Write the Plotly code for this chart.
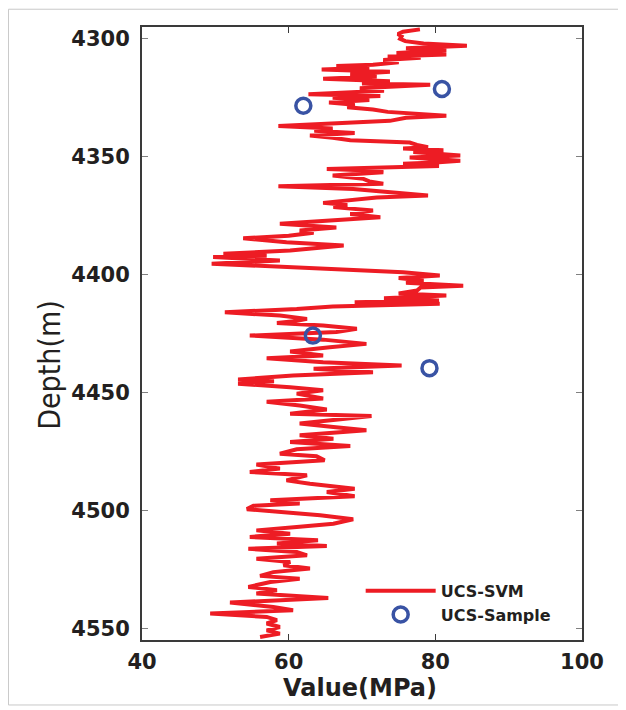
import plotly.graph_objects as go

# UCS-SVM log (depth in m, value in MPa)
svm_depth = [
    4296, 4297, 4298, 4299, 4300, 4301, 4302, 4303, 4304, 4305, 4306, 4306.7, 4307.5, 4308, 4309, 4310,
    4311, 4311.5, 4312.3, 4313, 4314, 4315, 4316, 4317, 4318, 4319, 4319.5, 4321, 4322, 4323.5, 4324.3,
    4325, 4326, 4327, 4328, 4329, 4330, 4331, 4332.6, 4333.5, 4334.8, 4336, 4337, 4338, 4339, 4340,
    4341, 4342, 4343, 4344, 4345, 4346, 4346.5, 4347.3, 4348, 4349.5, 4350.3, 4351.7, 4352.5, 4353,
    4354, 4355.2, 4356, 4356.6, 4357.3, 4358, 4359.4, 4360.5, 4361.5, 4362.5, 4363.7, 4365, 4366.5,
    4367.3, 4368, 4369.6, 4370.5, 4371.4, 4372.8, 4374.3, 4375.7, 4377, 4378.5, 4380, 4381.3, 4382.3,
    4383.5, 4384.6, 4386.3, 4387.7, 4388.8, 4389.8, 4391.2, 4392, 4392.6, 4394, 4395.4, 4396.9, 4397.6,
    4398.3, 4399, 4400.4, 4401.5, 4402.6, 4403.5, 4404.7, 4405.5, 4406.8, 4408, 4408.9, 4410, 4411,
    4411.7, 4412.4, 4413.5, 4414.6, 4416, 4417.4, 4418.8, 4419.7, 4420.5, 4421.6, 4423, 4424.4, 4425.9,
    4427.6, 4429.4, 4430.8, 4432.6, 4434.3, 4435.5, 4437.2, 4438.6, 4440, 4441.4, 4442.8, 4444.5,
    4445.3, 4446.3, 4447.8, 4449.1, 4450.5, 4452.6, 4454, 4455.5, 4457.2, 4459, 4460, 4461.8, 4463.2,
    4464.7, 4466, 4468.2, 4469.6, 4471, 4472.7, 4474.1, 4476, 4477.1, 4478.8, 4480.6, 4482.3, 4483.7,
    4485.1, 4487.3, 4488.7, 4490.8, 4492.2, 4494, 4495.7, 4497.1, 4498.1, 4499.5, 4500.7, 4502.1,
    4503.8, 4505.7, 4507.1, 4508.5, 4509.9, 4511.3, 4512.7, 4514.1, 4515.1, 4516.3, 4517.7, 4519.1,
    4520.5, 4521.9, 4523.3, 4524.7, 4526.2, 4527.8, 4529, 4530.4, 4532.5, 4533.9, 4535.3, 4537.2,
    4539.1, 4541, 4542.4, 4543.8, 4545.2, 4546.6, 4548, 4549.5, 4550.9, 4552.3, 4553.7,
]
svm_value = [
    77.9, 75.6, 74.9, 75.4, 75.2, 75.9, 78.4, 84.3, 76.0, 81.5, 74.7, 81.5, 73.5, 78.0, 72.9, 75.0,
    71.5, 66.5, 71.0, 64.5, 73.8, 68.4, 72.0, 64.7, 73.8, 70.0, 79.3, 69.7, 73.0, 62.7, 72.5,
    66.0, 71.0, 65.5, 69.0, 68.0, 71.5, 73.5, 81.5, 76.0, 73.8, 65.0, 58.6, 66.0, 63.5, 69.0,
    62.9, 66.0, 68.4, 76.5, 77.5, 79.0, 75.6, 81.1, 77.0, 83.4, 76.5, 83.4, 80.0, 75.6,
    80.5, 65.2, 72.0, 72.9, 69.0, 66.0, 70.2, 71.0, 72.9, 58.6, 68.8, 74.3, 79.0,
    72.0, 69.3, 64.7, 68.0, 66.1, 71.5, 68.4, 72.5, 66.0, 58.8, 66.5, 61.5, 63.4,
    60.0, 53.8, 59.7, 67.5, 63.0, 60.2, 51.1, 57.0, 49.7, 58.8, 49.5, 60.2, 65.0,
    71.5, 75.6, 80.6, 75.0, 78.4, 76.0, 83.8, 78.0, 77.5, 75.0, 81.5, 73.0, 80.5,
    69.0, 80.6, 66.0, 61.1, 51.3, 58.8, 62.5, 61.0, 58.4, 64.7, 69.3, 66.5, 54.7,
    64.7, 70.6, 65.6, 60.2, 64.7, 57.0, 64.7, 75.4, 63.4, 71.5, 60.6, 53.1,
    58.0, 53.1, 60.2, 64.7, 61.1, 64.7, 57.0, 61.5, 65.2, 60.2, 71.3, 65.6, 61.5,
    66.1, 70.6, 61.5, 66.1, 60.2, 68.4, 61.1, 58.8, 63.8, 64.9, 55.6, 58.8, 54.7,
    62.5, 59.7, 62.9, 69.0, 65.2, 69.0, 57.5, 61.5, 55.2, 54.3, 58.8, 64.3,
    68.8, 66.1, 61.1, 55.6, 60.2, 54.7, 64.0, 58.4, 65.2, 54.5, 61.1, 62.5,
    55.6, 60.2, 59.3, 62.9, 57.9, 56.1, 61.5, 57.5, 54.5, 58.4, 55.6, 65.4,
    52.0, 57.9, 60.6, 49.3, 57.0, 58.4, 57.0, 58.8, 57.0, 58.8, 56.1,
]

# UCS core samples
sample_depth = [4321.3, 4328.4, 4425.9, 4439.7]
sample_value = [80.9, 62.0, 63.3, 79.2]

x_ticks = [40, 60, 80, 100]
y_ticks = [4300, 4350, 4400, 4450, 4500, 4550]

TXT = "#231f20"
AX = "#3a3a3a"

fig = go.Figure()
fig.add_trace(go.Scatter(
    x=svm_value, y=svm_depth, mode="lines", name="UCS-SVM",
    line=dict(color="#ed1c24", width=4),
))
fig.add_trace(go.Scatter(
    x=sample_value, y=sample_depth, mode="markers", name="UCS-Sample",
    marker=dict(symbol="circle-open", size=15, color="#3953a4", line=dict(width=3.5, color="#3953a4")),
))

fig.update_layout(
    width=614, height=700,
    margin=dict(l=134, r=40, t=19, b=68, autoexpand=False),
    paper_bgcolor="white", plot_bgcolor="white",
    showlegend=True,
    legend=dict(
        x=0.497, y=0.108, xanchor="left", yanchor="top",
        bgcolor="rgba(0,0,0,0)", borderwidth=0,
        itemwidth=70,
        font=dict(family="DejaVu Sans", size=16, color=TXT, weight="bold"),
        tracegroupgap=0,
    ),
    xaxis=dict(
        range=[40, 100], tickvals=x_ticks, ticktext=[str(v) for v in x_ticks],
        showgrid=False, zeroline=False, automargin=False,
        showline=True, linecolor=AX, linewidth=1.5, mirror="ticks",
        ticks="inside", ticklen=6, tickcolor=AX, tickwidth=1,
        tickfont=dict(family="DejaVu Sans", size=21, color=TXT, weight="bold"),
        ticklabelstandoff=2,
    ),
    yaxis=dict(
        range=[4555, 4295], tickvals=y_ticks, ticktext=[str(v) for v in y_ticks],
        showgrid=False, zeroline=False, automargin=False,
        showline=True, linecolor=AX, linewidth=2, mirror="ticks",
        ticks="inside", ticklen=6, tickcolor="#808080", tickwidth=1,
        tickfont=dict(family="DejaVu Sans", size=21, color=TXT, weight="bold"),
        ticklabelstandoff=6,
    ),
    annotations=[
        dict(text="Depth(m)", xref="paper", yref="paper", x=-0.209, y=0.449,
             xanchor="center", yanchor="middle", textangle=-90, showarrow=False,
             font=dict(family="DejaVu Sans Condensed, DejaVu Sans", size=30, color=TXT)),
        dict(text="Value(MPa)", xref="paper", yref="paper", x=0.495, y=-0.078,
             xanchor="center", yanchor="middle", showarrow=False,
             font=dict(family="DejaVu Sans", size=24, color=TXT, weight="bold")),
    ],
    shapes=[
        dict(type="rect", xref="paper", yref="paper", x0=-0.3035, x1=1.086, y0=-0.106, y1=1.029,
             line=dict(color="#c8c8c8", width=1), fillcolor="rgba(0,0,0,0)", layer="below"),
    ],
)

fig.write_html("out.html")
